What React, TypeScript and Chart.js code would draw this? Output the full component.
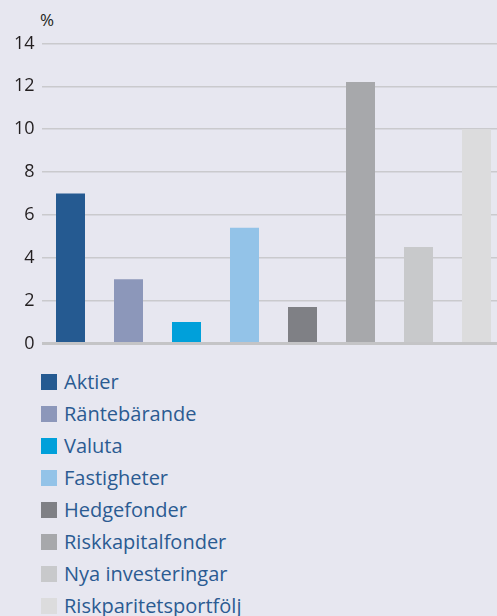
import React, { useEffect, useRef } from "react";
import { Chart, registerables } from "chart.js";

Chart.register(...registerables);

const categories = [
  "Aktier",
  "Räntebärande",
  "Valuta",
  "Fastigheter",
  "Hedgefonder",
  "Riskkapitalfonder",
  "Nya investeringar",
  "Riskparitetsportfölj",
];
const values = [7.0, 3.0, 1.0, 5.4, 1.7, 12.2, 4.5, 10.0];
const colors = [
  "#255a91",
  "#8c97ba",
  "#00a0da",
  "#93c3e8",
  "#7f8085",
  "#a7a8ab",
  "#c8c9cb",
  "#dcdcdd",
];
const yMin = 0;
const yMax = 14;
const yStep = 2;
const unitLabel = "%";

const BG = "#e7e7f0";
const FONT = "'Open Sans', 'Liberation Sans', sans-serif";

export default function App() {
  const ref = useRef<HTMLCanvasElement | null>(null);

  useEffect(() => {
    if (!ref.current) return;
    const chart = new Chart(ref.current, {
      type: "bar",
      data: {
        labels: categories,
        datasets: [
          {
            data: values,
            backgroundColor: colors,
            borderWidth: 0,
            barPercentage: 0.5,
            categoryPercentage: 1,
          },
        ],
      },
      options: {
        animation: false,
        responsive: false,
        maintainAspectRatio: false,
        layout: { padding: { top: 43.5, right: 0.5, bottom: 16.5, left: 0 } },
        plugins: {
          legend: { display: false },
          tooltip: { enabled: false },
        },
        scales: {
          x: { display: false },
          y: {
            min: yMin,
            max: yMax,
            afterFit: (s: any) => {
              s.width = 41.5;
              s.paddingTop = 0;
              s.paddingBottom = 0;
            },
            border: { display: false },
            grid: {
              drawTicks: false,
              color: (c: any) => (c.tick && c.tick.value === 0 ? "#c4c4c6" : "#cacacd"),
              lineWidth: (c: any) => (c.tick && c.tick.value === 0 ? 3 : 1.5),
            },
            ticks: {
              stepSize: yStep,
              padding: 7,
              color: "#231f20",
              font: { family: FONT, size: 18 },
            },
          },
        },
      },
    });
    return () => chart.destroy();
  }, []);

  return (
    <div
      style={{
        position: "fixed",
        left: 0,
        top: 0,
        width: 497,
        height: 616,
        background: BG,
        overflow: "hidden",
        fontFamily: FONT,
      }}
    >
      <div
        style={{
          position: "absolute",
          left: 40,
          top: 10,
          fontSize: 17,
          color: "#231f20",
          lineHeight: "20px",
        }}
      >
        {unitLabel}
      </div>
      <canvas
        ref={ref}
        width={506}
        height={360}
        style={{ position: "absolute", left: 0, top: 0, width: 506, height: 360 }}
      />
      <div style={{ position: "absolute", left: 41, top: 366 }}>
        {categories.map((c, i) => (
          <div
            key={c}
            style={{ display: "flex", alignItems: "center", height: 32 }}
          >
            <span
              style={{
                width: 16,
                height: 16,
                background: colors[i],
                display: "inline-block",
                marginRight: 7,
                flexShrink: 0,
              }}
            />
            <span style={{ color: "#2b5b92", fontSize: 20, lineHeight: "32px", whiteSpace: "nowrap" }}>{c}</span>
          </div>
        ))}
      </div>
    </div>
  );
}
